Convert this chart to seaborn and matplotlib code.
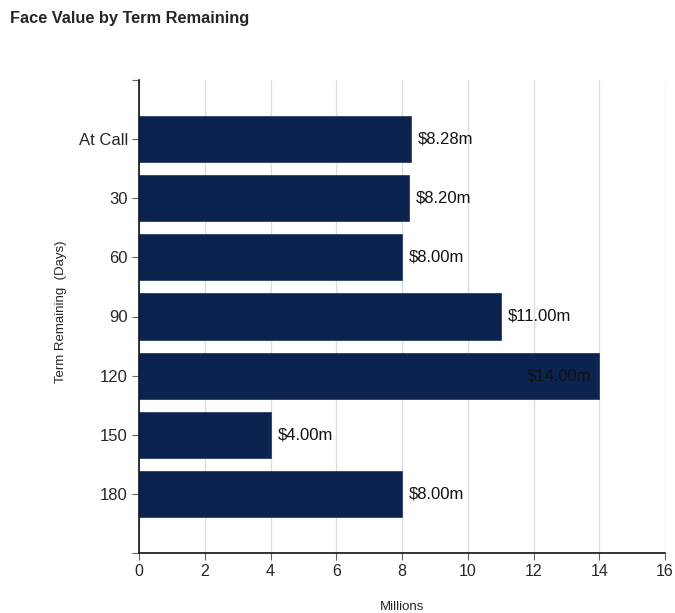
import matplotlib
matplotlib.use("Agg")
import matplotlib.pyplot as plt
import seaborn as sns
import pandas as pd

terms = ["At Call", "30", "60", "90", "120", "150", "180"]
face_value_m = [8.28, 8.20, 8.00, 11.00, 14.00, 4.00, 8.00]
x_ticks = [0, 2, 4, 6, 8, 10, 12, 14, 16]

sns.set_theme(style="white")
plt.rcParams["font.family"] = ["Liberation Sans", "DejaVu Sans"]

df = pd.DataFrame({"term": terms, "value": face_value_m})

fig = plt.figure(figsize=(6.75, 6.13), dpi=100)
ax = fig.add_axes([139 / 675, 1 - 553 / 613, (665 - 139) / 675, (553 - 80) / 613])

sns.barplot(data=df, y="term", x="value", order=terms, color="#0c2350",
            orient="h", width=0.78, ax=ax, edgecolor="#2a3f66", linewidth=0.6,
            saturation=1)

ax.set_xlim(0, 16)
ax.set_ylim(7, -1)
ax.set_xticks(x_ticks)
ax.set_xticklabels([str(t) for t in x_ticks], fontsize=11.5)
ax.set_yticks([-1] + list(range(len(terms))) + [7])
ax.set_yticklabels([""] + terms + [""], fontsize=12)
ax.tick_params(axis="both", which="both", length=5, width=0.8, color="#666666",
               pad=3, left=True, bottom=True)
ax.xaxis.grid(True, color="#dddddd", linewidth=1)
ax.yaxis.grid(False)
ax.set_axisbelow(True)

for side in ["top", "right"]:
    ax.spines[side].set_visible(False)
for side in ["left", "bottom"]:
    ax.spines[side].set_color("#111111")
    ax.spines[side].set_linewidth(1.2)

ax.set_xlabel("Millions", fontsize=9.5, labelpad=16)
ax.set_ylabel("Term Remaining  (Days)", fontsize=9.5)
ax.yaxis.set_label_coords(-0.136, 0.51)

for i, v in enumerate(face_value_m):
    label = f"${v:.2f}m"
    if v >= 13:
        ax.annotate(label, (v, i), xytext=(-6, 0), textcoords="offset points",
                    ha="right", va="center", fontsize=12, color="#111111")
    else:
        ax.annotate(label, (v, i), xytext=(5, 0), textcoords="offset points",
                    ha="left", va="center", fontsize=12, color="#111111")

fig.text(10 / 675, 1 - 18 / 613, "Face Value by Term Remaining",
         fontsize=11.8, fontweight="bold", ha="left", va="center")

fig.savefig("out.png", dpi=100)
